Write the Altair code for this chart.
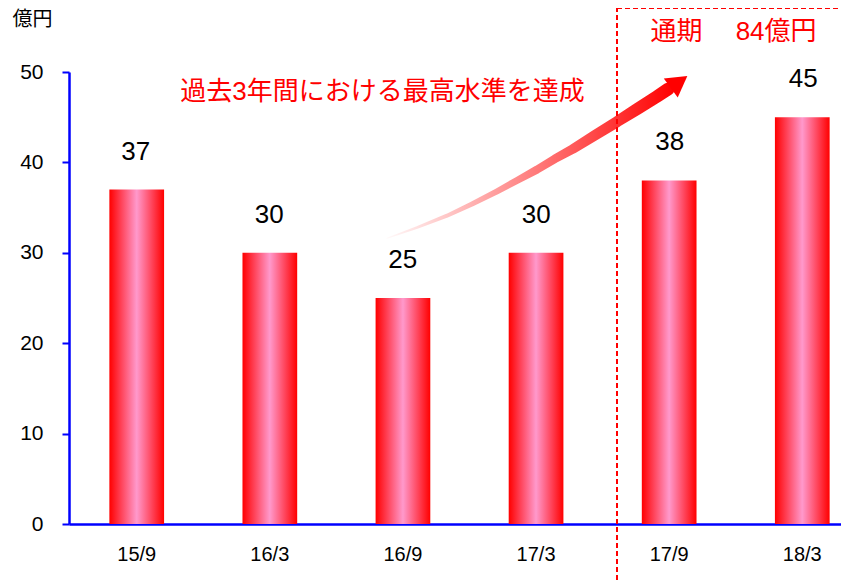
import altair as alt
import pandas as pd

# ---- data ----
periods = ["15/9", "16/3", "16/9", "17/3", "17/9", "18/3"]
values = [37, 30, 25, 30, 38, 45]

# decorative arrow path (x in bar-index units, y in 億円 units)
arrow_idx = [1.881, 2.107, 2.332, 2.520, 2.708, 2.858, 3.008, 3.143, 3.279, 3.444, 3.610, 3.760, 3.910, 3.993]
arrow_val = [31.6, 32.8, 34.1, 35.4, 36.8, 38.0, 39.2, 40.4, 41.5, 43.0, 44.5, 45.9, 47.3, 48.1]
arrow_w = [1, 2.5, 4, 5, 6, 7, 8, 8.5, 9.5, 10.5, 11, 12, 12.5, 13]
head_idx = [4.076]
head_val = [48.9]

note_text = ["過去3年間における最高水準を達成"]
box_text = ["通期　 84億円"]
unit_text = "億円"

FONT = "Liberation Sans, Noto Sans CJK JP"
BLUE = "#0000ff"
RED = "#ff0000"

df = pd.DataFrame({"period": periods, "value": values})
arrow_df = pd.DataFrame({"i": arrow_idx, "v": arrow_val, "w": arrow_w,
                         "o": list(range(len(arrow_idx)))})
head_df = pd.DataFrame({"i": head_idx, "v": head_val})

yscale = alt.Scale(domain=[0, 50], nice=False)
xband = alt.Scale(paddingInner=0.589, paddingOuter=0.3033, range=[0, 801])
xlin = alt.Scale(domain=[0, 5], range=[67.7, 733.0])

bar_grad = alt.LinearGradient(
    gradient="linear", x1=0, x2=1, y1=0, y2=0,
    stops=[alt.GradientStop(offset=0, color="#ff0000"),
           alt.GradientStop(offset=0.5, color="#ff99cc"),
           alt.GradientStop(offset=1, color="#ff0000")])

bars = alt.Chart(df).mark_bar(color=bar_grad).encode(
    x=alt.X("period:N", sort=periods, scale=xband,
            axis=alt.Axis(title=None, labelAngle=0, ticks=False, grid=False,
                          domainColor=BLUE, domainWidth=2.5,
                          labelFont=FONT, labelFontSize=20, labelColor="black",
                          labelPadding=20)),
    y=alt.Y("value:Q", scale=yscale,
            axis=alt.Axis(values=[0, 10, 20, 30, 40, 50], grid=False,
                          domainColor=BLUE, domainWidth=2.5,
                          tickColor=BLUE, tickWidth=2, tickSize=7,
                          labelFont=FONT, labelFontSize=21, labelColor="black",
                          labelPadding=19,
                          title=unit_text, titleAngle=0, titleX=-37, titleY=-53,
                          titleAlign="center", titleBaseline="middle",
                          titleFont=FONT, titleFontSize=20,
                          titleFontWeight="normal", titleColor="black")),
)

labels = alt.Chart(df).mark_text(font=FONT, fontSize=26, color="black",
                                 baseline="alphabetic", dy=-30).encode(
    x=alt.X("period:N", sort=periods, scale=xband, axis=None),
    y=alt.Y("value:Q", scale=yscale),
    text=alt.Text("value:Q"),
)

arrow_grad = alt.LinearGradient(
    gradient="linear", x1=0, x2=1, y1=0, y2=0,
    stops=[alt.GradientStop(offset=0, color="rgba(255,0,0,0.02)"),
           alt.GradientStop(offset=0.45, color="rgba(255,0,0,0.45)"),
           alt.GradientStop(offset=1, color="rgba(255,0,0,1)")])

arrow = alt.Chart(arrow_df).mark_trail(color=arrow_grad).encode(
    x=alt.X("i:Q", scale=xlin, axis=None),
    y=alt.Y("v:Q", scale=yscale),
    size=alt.Size("w:Q", scale=None, legend=None),
    order="o:Q",
)

head = alt.Chart(head_df).mark_point(shape="triangle-up", angle=54, size=560,
                                     filled=True, color=RED, opacity=1).encode(
    x=alt.X("i:Q", scale=xlin, axis=None),
    y=alt.Y("v:Q", scale=yscale),
)

box = alt.Chart(pd.DataFrame({"k": [0]})).mark_rect(
    fillOpacity=0, stroke=RED, strokeWidth=2, strokeDash=[5, 3]).encode(
    x=alt.value(548), x2=alt.value(820), y=alt.value(-64), y2=alt.value(530))

note = alt.Chart(pd.DataFrame({"t": note_text})).mark_text(
    font=FONT, fontSize=26, color=RED, align="center", baseline="middle").encode(
    x=alt.value(313.5), y=alt.value(19.5), text="t:N")

boxnote = alt.Chart(pd.DataFrame({"t": box_text})).mark_text(
    font=FONT, fontSize=26, color=RED, align="center", baseline="middle").encode(
    x=alt.value(664.5), y=alt.value(-40.5), text="t:N")

chart = alt.layer(bars, labels, arrow, head, box, note, boxnote).resolve_scale(
    x="independent"
).properties(
    width=772, height=452,
    autosize=alt.AutoSizeParams(type="none"),
    padding={"left": 61, "top": 64, "right": 0, "bottom": 58},
    background="white",
).configure_view(stroke="transparent", strokeWidth=0).configure_axis(grid=False)

chart.save("out.html", embed_options={"renderer": "svg", "actions": False})
